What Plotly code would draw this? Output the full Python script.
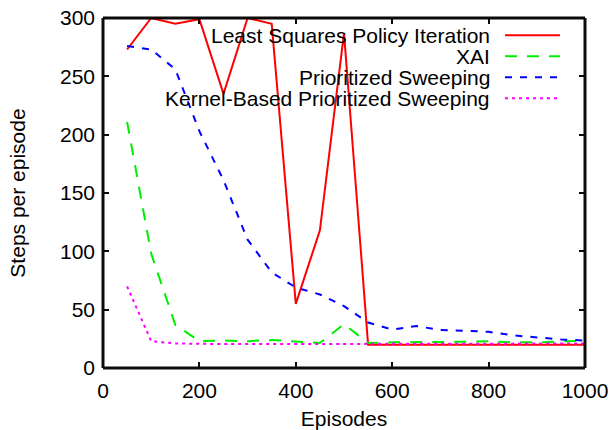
import plotly.graph_objects as go

episodes = [50, 100, 150, 200, 250, 300, 350, 400, 450, 500, 550, 600, 650, 700, 750, 800, 850, 900, 950, 1000]
lspi = [273, 300, 295, 299, 235, 300, 295, 55, 118, 287, 20, 20, 20, 20, 20, 20, 20, 20, 20, 20]
xai = [211, 98, 37, 23, 23.5, 23, 24, 22.5, 21.5, 37.5, 21.5, 22, 22, 22, 22.5, 23, 22, 22, 23, 23.5]
ps = [276, 273, 256, 203, 161, 110, 82, 69, 63, 53, 39, 33, 36, 32.5, 32, 31, 28, 26, 24.5, 23.5]
kbps = [70, 23, 21, 20.5, 20.5, 20.5, 20.5, 20.5, 20.5, 20.5, 20.5, 21, 21, 21, 21, 21, 21, 21, 21, 21]

names = ["Least Squares Policy Iteration", "XAI", "Prioritized Sweeping", "Kernel-Based Prioritized Sweeping"]
series = [lspi, xai, ps, kbps]
colors = ["#ff0000", "#00ee00", "#0000ff", "#ff00ff"]
dashes = ["solid", "12px,10px", "7px,8px", "3px,4px"]

fig = go.Figure()
for n, s, c, d in zip(names, series, colors, dashes):
    fig.add_trace(go.Scatter(x=episodes, y=s, mode="lines", name=n,
                             line=dict(color=c, width=2, dash=d), showlegend=False))

font = dict(family="Liberation Sans, Arial, sans-serif", size=21, color="#000000")

# manual legend (text left, sample right, like gnuplot)
row_y = [0.951, 0.891, 0.831, 0.771]
for n, c, d, yy in zip(names, colors, dashes, row_y):
    fig.add_annotation(xref="paper", yref="paper", x=0.807, y=yy, text=n,
                       showarrow=False, xanchor="right", yanchor="middle", font=font)
    fig.add_shape(type="line", xref="paper", yref="paper", x0=0.834, x1=0.948, y0=yy, y1=yy,
                  line=dict(color=c, width=2, dash=d))

# frame drawn as line shapes around the plot area
frame_col = "rgb(10,10,10)"
for (x0, y0, x1, y1) in [(0, 0, 1, 0), (0, 1, 1, 1), (0, 0, 0, 1), (1, 0, 1, 1)]:
    fig.add_shape(type="line", xref="paper", yref="paper", x0=x0, y0=y0, x1=x1, y1=y1,
                  line=dict(color=frame_col, width=3))

axis_common = dict(showline=False, mirror="allticks",
                   ticks="inside", ticklen=6, tickwidth=2, tickcolor=frame_col,
                   showgrid=False, zeroline=False, tickfont=font, automargin=False)

fig.update_xaxes(range=[0, 1000], dtick=200, tick0=0, ticklabelstandoff=8,
                 title=dict(text="Episodes", font=font, standoff=12), **axis_common)
fig.update_yaxes(range=[0, 300], dtick=50, tick0=0, ticklabelstandoff=7,
                 title=dict(text="Steps per episode", font=font, standoff=28), **axis_common)

fig.update_layout(width=613, height=430, margin=dict(l=103, r=28, t=18, b=62),
                  plot_bgcolor="white", paper_bgcolor="white", font=font)

fig.write_html("out.html", config={"displayModeBar": False},
               post_script="document.body.style.margin='0px';")
